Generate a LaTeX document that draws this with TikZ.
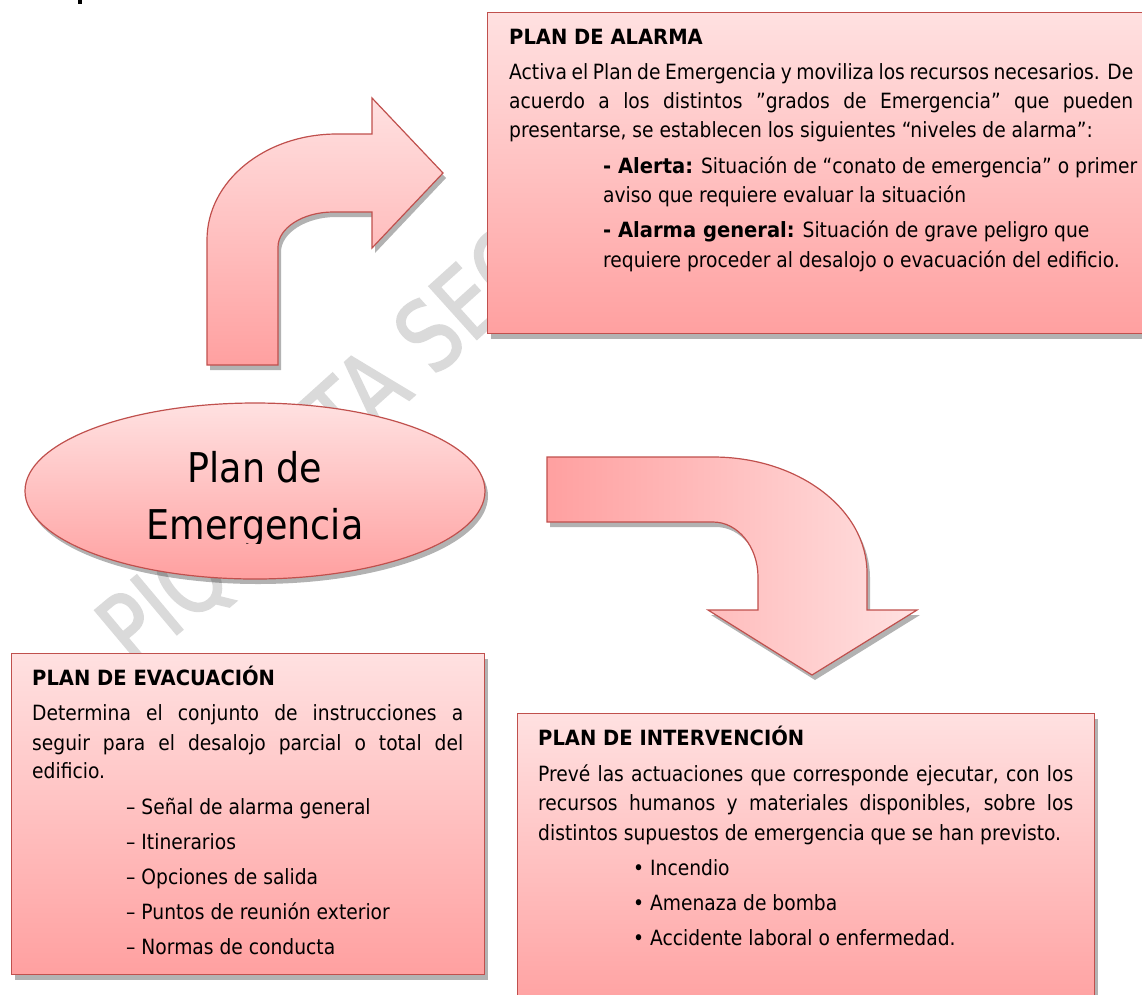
\documentclass[tikz,border=0pt]{standalone}
\usepackage{fontspec}
\setmainfont{DejaVu Sans}[FakeStretch=0.89]
\newfontfamily\hdfont{DejaVu Sans}[FakeStretch=0.93]
\newfontfamily\wmfont{DejaVu Sans}[FakeStretch=0.8, FakeBold=1.6]
\usetikzlibrary{shadows,shapes.geometric}
\definecolor{pinklite}{RGB}{255,225,225}
\definecolor{pinkdark}{RGB}{255,160,160}
\definecolor{edgered}{RGB}{192,80,77}
\definecolor{wmgray}{RGB}{218,218,218}
\tikzset{
  pinkshape/.style={draw=edgered, line width=1.2pt,
    drop shadow={shadow xshift=3pt, shadow yshift=-5pt, fill=black, opacity=0.3}},
  vgrad/.style={top color=pinklite, bottom color=pinkdark},
  hgrad/.style={left color=pinkdark, right color=pinklite},
  boxst/.style={pinkshape, vgrad, rectangle, inner sep=0pt, anchor=north west},
  txt/.style={anchor=base west, inner sep=0pt, font=\fontsize{21}{29}\selectfont},
  ttl/.style={txt, font=\hdfont\fontsize{21}{29}\selectfont\bfseries},
  bigtxt/.style={anchor=base, inner sep=0pt, font=\fontsize{41}{50}\selectfont},
  wm/.style={text=wmgray, inner sep=0pt, font=\wmfont\fontsize{98}{98}\selectfont},
}
\newcommand\hdb[1]{{\hdfont\bfseries #1}}
\begin{document}
\begin{tikzpicture}[x=1pt,y=-1pt]
\useasboundingbox (0,0) rectangle (1142,994);
\clip (0,0) rectangle (1142,994);
% watermark
\node[wm, rotate=40] (wma) at (188,586) {PIQU};
\node[wm, rotate=42] (wmb) at (425,338) {TA SEG};
% fragment of text above
\fill (78,0) rectangle (82,4);
% up-right bent arrow
\path[pinkshape, vgrad] (207,365) -- (207,240)
  .. controls (207,181) and (265,134) .. (337,134)
  -- (372,134) -- (372,98) -- (443,173) -- (372,248) -- (372,212) -- (333,212)
  .. controls (303,212) and (278,228) .. (278,247)
  -- (278,365) -- cycle;
% right-down bent arrow
\path[pinkshape, hgrad] (547,457) -- (713,457)
  .. controls (798,457) and (867,509) .. (867,573)
  -- (867,610) -- (917,610) -- (812,675) -- (708,610) -- (758,610) -- (758,577)
  .. controls (758,547) and (738,522) .. (713,522)
  -- (547,522) -- cycle;
% central ellipse
\node[pinkshape, vgrad, ellipse, minimum width=460pt, minimum height=176pt, inner sep=0pt] (plan) at (255,491) {};
\begin{scope}
  \clip (0,0) rectangle (1142,543);
  \node[bigtxt] (plan1) at (255,482) {Plan de};
  \node[bigtxt] (plan2) at (255,539) {Emergencia};
\end{scope}
% boxes
\node[boxst, minimum width=665pt, minimum height=321pt] (alarma) at (487,12) {};
\node[boxst, minimum width=473pt, minimum height=321pt] (evac) at (11,653) {};
\node[boxst, minimum width=577pt, minimum height=300pt] (interv) at (517,713) {};
% Plan de alarma
\node[ttl] (at) at (509,44) {PLAN DE ALARMA};
\node[txt] (a1) at (509,79) {\makebox[624pt][s]{Activa el Plan de Emergencia y moviliza los recursos necesarios. De}};
\node[txt] (a2) at (509,108) {\makebox[624pt][s]{acuerdo a los distintos ”grados de Emergencia” que pueden}};
\node[txt] (a3) at (509,137) {presentarse, se establecen los siguientes “niveles de alarma”:};
\node[txt] (a4) at (603,173) {\hdb{- Alerta:} Situación de “conato de emergencia” o primer};
\node[txt] (a5) at (603,202) {aviso que requiere evaluar la situación};
\node[txt] (a6) at (603,237) {\hdb{- Alarma general:} Situación de grave peligro que};
\node[txt] (a7) at (603,267) {requiere proceder al desalojo o evacuación del edificio.};
% Plan de evacuacion
\node[ttl] (et) at (32,685) {PLAN DE EVACUACIÓN};
\node[txt] (e1) at (32,720) {\makebox[431pt][s]{Determina el conjunto de instrucciones a}};
\node[txt] (e2) at (32,750) {\makebox[431pt][s]{seguir para el desalojo parcial o total del}};
\node[txt] (e3) at (32,778) {edificio.};
\node[txt] (e4) at (126,814) {– Señal de alarma general};
\node[txt] (e5) at (126,849) {– Itinerarios};
\node[txt] (e6) at (126,884) {– Opciones de salida};
\node[txt] (e7) at (126,919) {– Puntos de reunión exterior};
\node[txt] (e8) at (126,954) {– Normas de conducta};
% Plan de intervencion
\node[ttl] (it) at (538,745) {PLAN DE INTERVENCIÓN};
\node[txt] (i1) at (538,781) {\makebox[535pt][s]{Prevé las actuaciones que corresponde ejecutar, con los}};
\node[txt] (i2) at (538,810) {\makebox[535pt][s]{recursos humanos y materiales disponibles, sobre los}};
\node[txt] (i3) at (538,840) {distintos supuestos de emergencia que se han previsto.};
\node[txt] (i4) at (633,875) {• Incendio};
\node[txt] (i5) at (633,910) {• Amenaza de bomba};
\node[txt] (i6) at (633,945) {• Accidente laboral o enfermedad.};
\end{tikzpicture}
\end{document}
